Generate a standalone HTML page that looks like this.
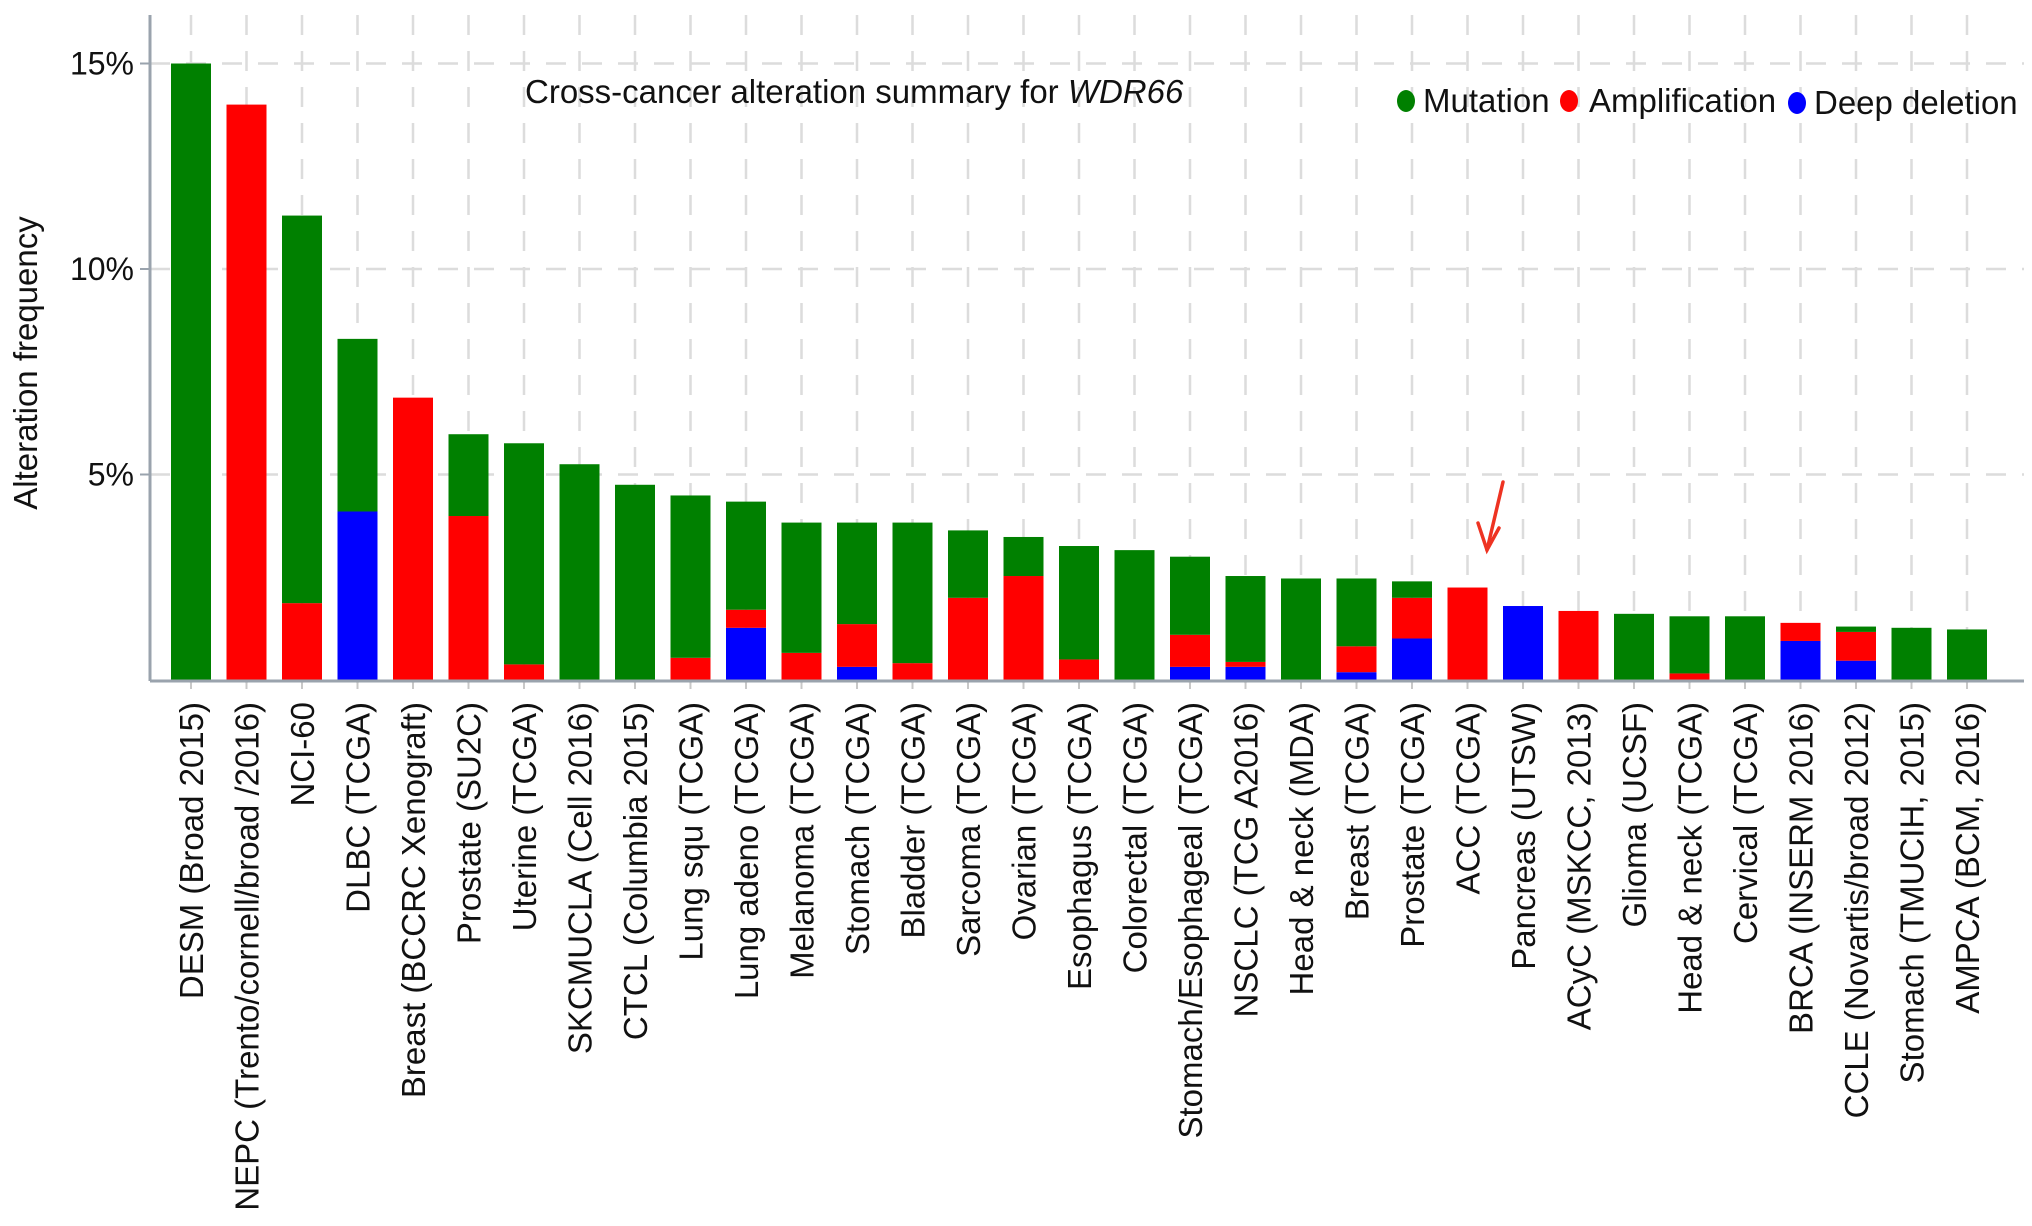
<!DOCTYPE html>
<html><head><meta charset="utf-8"><style>
html,body{margin:0;padding:0;background:#fff;}
svg{display:block;font-family:"Liberation Sans",Arial,sans-serif;}
</style></head><body>
<svg id="chart" width="2032" height="1226" viewBox="0 0 2032 1226" xmlns="http://www.w3.org/2000/svg">
<g id="grid"></g>
<g id="bars"></g>
<g id="axes"></g>
<g id="xlabels"></g>
<text transform="translate(37,363) rotate(-90)" text-anchor="middle" font-size="33" fill="#111">Alteration frequency</text>
<text x="525" y="103" font-size="33" fill="#111">Cross-cancer alteration summary for <tspan font-style="italic">WDR66</tspan></text>
<g font-size="33" fill="#111">
<g><ellipse cx="1406" cy="101" rx="9" ry="11" fill="#008000"/><text x="1423" y="112">Mutation</text></g>
<g><ellipse cx="1569" cy="101" rx="9" ry="11" fill="#ff0000"/><text x="1589" y="112">Amplification</text></g>
<g><ellipse cx="1797" cy="103" rx="9" ry="11" fill="#0000ff"/><text x="1814" y="114">Deep deletion</text></g>
</g>
<g stroke="#ee3322" stroke-width="3.5" fill="none" stroke-linecap="round">
<line x1="1503" y1="482" x2="1487" y2="550"/>
<polyline points="1478,523 1487,550 1499,528"/>
</g>
</svg>
<script>
const categories=["DESM (Broad 2015)","NEPC (Trento/cornell/broad /2016)","NCI-60","DLBC (TCGA)","Breast (BCCRC Xenograft)","Prostate (SU2C)","Uterine (TCGA)","SKCMUCLA (Cell 2016)","CTCL (Columbia 2015)","Lung squ (TCGA)","Lung adeno (TCGA)","Melanoma (TCGA)","Stomach (TCGA)","Bladder (TCGA)","Sarcoma (TCGA)","Ovarian (TCGA)","Esophagus (TCGA)","Colorectal (TCGA)","Stomach/Esophageal (TCGA)","NSCLC (TCG A2016)","Head & neck (MDA)","Breast (TCGA)","Prostate (TCGA)","ACC (TCGA)","Pancreas (UTSW)","ACyC (MSKCC, 2013)","Glioma (UCSF)","Head & neck (TCGA)","Cervical (TCGA)","BRCA (INSERM 2016)","CCLE (Novartis/broad 2012)","Stomach (TMUCIH, 2015)","AMPCA (BCM, 2016)"];
const deepDeletion=[0,0,0,4.1,0,0,0,0,0,0,1.27,0,0.32,0,0,0,0,0,0.32,0.32,0,0.19,1.01,0,1.8,0,0,0,0,0.95,0.47,0,0];
const amplification=[0,14.0,1.87,0,6.87,3.99,0.38,0,0,0.54,0.44,0.66,1.04,0.41,2.0,2.53,0.5,0,0.78,0.12,0,0.63,0.99,2.25,0,1.68,0,0.16,0,0.44,0.7,0,0];
const mutation=[15.0,0,9.43,4.2,0,1.99,5.38,5.25,4.75,3.95,2.63,3.17,2.47,3.42,1.64,0.95,2.76,3.16,1.9,2.09,2.47,1.65,0.4,0,0,0,1.61,1.39,1.55,0,0.13,1.27,1.23];
const yTicks=[5,10,15];
const yTickLabels=["5%","10%","15%"];
const NS="http://www.w3.org/2000/svg";
const X0=191,PITCH=55.5,BW=40,Y0=680,PX=41.1,AXL=150,AXR=2024,AXT=15;
function xScale(i){return X0+i*PITCH;}
function yScale(v){return Y0-v*PX;}
function mk(tag,attrs,parent){const e=document.createElementNS(NS,tag);for(const k in attrs)e.setAttribute(k,attrs[k]);parent.appendChild(e);return e;}
const grid=document.getElementById('grid'),bars=document.getElementById('bars'),axes=document.getElementById('axes'),xl=document.getElementById('xlabels');
categories.forEach((c,i)=>{
  const l=mk('line',{x1:xScale(i),x2:xScale(i),y1:AXT,y2:Y0+10,stroke:'#dcdcdc','stroke-width':2.5,'stroke-dasharray':'20 16'},grid);
  
  
});
yTicks.forEach((t,k)=>{
  const l=mk('line',{x1:AXL,x2:AXR,y1:yScale(t),y2:yScale(t),stroke:'#dcdcdc','stroke-width':2.5,'stroke-dasharray':'20 16'},grid);
  
  
  const tk=mk('line',{x1:AXL-10,x2:AXL,y1:yScale(t),y2:yScale(t),stroke:'#9aa3ad','stroke-width':2},axes);
  
  
  const tx=mk('text',{x:AXL-16,y:yScale(t)+11,'text-anchor':'end','font-size':32,fill:'#111'},axes);
  tx.textContent=yTickLabels[k];
  
  
});
const series=[[deepDeletion,'#0000ff','deep-deletion'],[amplification,'#ff0000','amplification'],[mutation,'#008000','mutation']];
categories.forEach((c,i)=>{
  let base=0;
  series.forEach(([arr,col,nm])=>{
    const v=arr[i];
    if(v>0){
      const r=mk('rect',{x:xScale(i)-BW/2,y:yScale(base+v),width:BW,height:yScale(base)-yScale(base+v),fill:col},bars);
      
      
    }
    base+=v;
  });
  const tk=mk('line',{x1:xScale(i),x2:xScale(i),y1:Y0,y2:Y0+9,stroke:'#c8c8c8','stroke-width':2},axes);
  
  
  const t=mk('text',{transform:`translate(${xScale(i)+12},702) rotate(-90)`,'text-anchor':'end','font-size':33,fill:'#111'},xl);
  t.textContent=c;
  
  
});
const ya=mk('line',{x1:AXL,x2:AXL,y1:AXT,y2:Y0+1,stroke:'#9aa3ad','stroke-width':3},axes);


const xa=mk('line',{x1:AXL,x2:AXR,y1:Y0+1,y2:Y0+1,stroke:'#9aa3ad','stroke-width':3},axes);


</script>
</body></html>
